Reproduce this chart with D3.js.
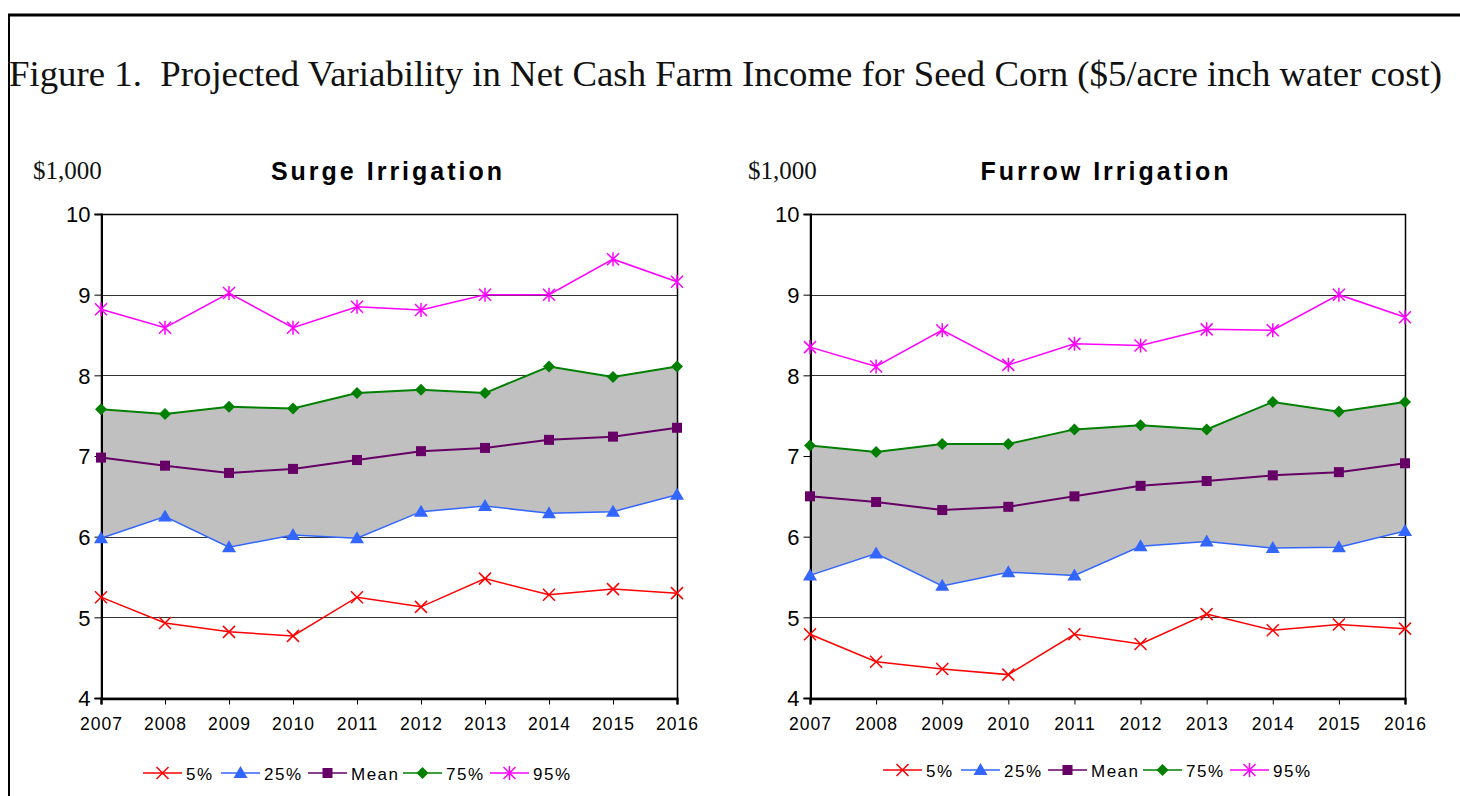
<!DOCTYPE html>
<html>
<head>
<meta charset="utf-8">
<script src="https://cdn.jsdelivr.net/npm/d3@7"></script>
<style>
body { margin: 0; background: #fff; }
svg { display: block; }
</style>
</head>
<body>
<svg id="fig" width="1460" height="796"></svg>
<script>
// years on the x axis
var years = [2007, 2008, 2009, 2010, 2011, 2012, 2013, 2014, 2015, 2016];
var yTicks = [4, 5, 6, 7, 8, 9, 10];
var seriesNames = ["5%", "25%", "Mean", "75%", "95%"];

// Surge irrigation ($1,000)
var surgeP5 = [5.25, 4.93, 4.82, 4.77, 5.25, 5.13, 5.48, 5.28, 5.35, 5.30];
var surgeP25 = [5.98, 6.25, 5.87, 6.02, 5.98, 6.31, 6.38, 6.29, 6.31, 6.52];
var surgeMean = [6.98, 6.88, 6.79, 6.84, 6.95, 7.06, 7.10, 7.20, 7.24, 7.35];
var surgeP75 = [7.58, 7.52, 7.61, 7.59, 7.78, 7.82, 7.78, 8.11, 7.98, 8.11];
var surgeP95 = [8.82, 8.59, 9.02, 8.59, 8.85, 8.81, 9.00, 9.00, 9.44, 9.16];

// Furrow irrigation ($1,000)
var furrowP5 = [4.79, 4.45, 4.36, 4.29, 4.79, 4.67, 5.04, 4.84, 4.91, 4.86];
var furrowP25 = [5.52, 5.79, 5.39, 5.56, 5.52, 5.88, 5.94, 5.86, 5.87, 6.07];
var furrowMean = [6.50, 6.43, 6.33, 6.37, 6.50, 6.63, 6.69, 6.76, 6.80, 6.91];
var furrowP75 = [7.13, 7.05, 7.15, 7.15, 7.33, 7.38, 7.33, 7.67, 7.55, 7.67];
var furrowP95 = [8.35, 8.11, 8.56, 8.13, 8.39, 8.37, 8.57, 8.56, 9.00, 8.72];

var colors = ["#ff0000", "#3366ff", "#660066", "#008000", "#ff00ff"];
var markers = ["x", "triangle", "square", "diamond", "star"];

var svg = d3.select("#fig");

// page frame
svg.append("line")
	.attr("x1", 8).attr("x2", 1460)
	.attr("y1", 15).attr("y2", 15)
	.style("stroke", "#000")
	.style("stroke-width", 3);
svg.append("line")
	.attr("x1", 9).attr("x2", 9)
	.attr("y1", 14).attr("y2", 796)
	.style("stroke", "#000")
	.style("stroke-width", 2);

svg.append("text")
	.attr("x", 9)
	.attr("y", 86)
	.attr("xml:space", "preserve")
	.style("font-family", "'Liberation Serif', 'DejaVu Serif', serif")
	.style("font-size", "36.8px")
	.style("fill", "#111")
	.text("Figure 1.  Projected Variability in Net Cash Farm Income for Seed Corn ($5/acre inch water cost)");

function drawMarker(g, type, x, y, color) {
	if (type == "x") {
		g.append("path")
			.attr("d", "M" + (x - 6) + "," + (y - 6) + "L" + (x + 6) + "," + (y + 6) +
				"M" + (x - 6) + "," + (y + 6) + "L" + (x + 6) + "," + (y - 6))
			.style("stroke", color).style("stroke-width", 1.5).style("fill", "none");
	} else if (type == "star") {
		g.append("path")
			.attr("d", "M" + (x - 6) + "," + (y - 6) + "L" + (x + 6) + "," + (y + 6) +
				"M" + (x - 6) + "," + (y + 6) + "L" + (x + 6) + "," + (y - 6) +
				"M" + x + "," + (y - 7) + "L" + x + "," + (y + 7))
			.style("stroke", color).style("stroke-width", 1.5).style("fill", "none");
	} else if (type == "triangle") {
		g.append("path")
			.attr("d", "M" + x + "," + (y - 7) + "L" + (x + 7) + "," + (y + 5) + "L" + (x - 7) + "," + (y + 5) + "Z")
			.style("fill", color);
	} else if (type == "square") {
		g.append("rect")
			.attr("x", x - 5).attr("y", y - 5)
			.attr("width", 10).attr("height", 10)
			.style("fill", color);
	} else if (type == "diamond") {
		g.append("path")
			.attr("d", "M" + x + "," + (y - 6) + "L" + (x + 6) + "," + y + "L" + x + "," + (y + 6) + "L" + (x - 6) + "," + y + "Z")
			.style("fill", color);
	}
}

function drawChart(opts) {
	var g = svg.append("g");
	var x = d3.scalePoint().domain(years).range([opts.left, opts.right]);
	var y = d3.scaleLinear().domain([4, 10]).range([698, 214]);

	// gridlines
	g.selectAll(".grid")
		.data(yTicks.filter(function (d) { return d > 4 && d < 10; }))
		.enter().append("line")
		.attr("x1", opts.left).attr("x2", opts.right)
		.attr("y1", function (d) { return Math.round(y(d)) + 0.5; })
		.attr("y2", function (d) { return Math.round(y(d)) + 0.5; })
		.style("stroke", "#333")
		.style("stroke-width", 1);

	// shaded band between 25% and 75%
	var band = d3.area()
		.x(function (d, i) { return x(years[i]); })
		.y0(function (d, i) { return y(opts.series[1][i]); })
		.y1(function (d, i) { return y(opts.series[3][i]); });
	g.append("path")
		.datum(years)
		.attr("d", band)
		.style("fill", "#c0c0c0");

	// plot frame
	g.append("rect")
		.attr("x", opts.left + 0.5).attr("y", y(10) + 0.5)
		.attr("width", opts.right - opts.left).attr("height", y(4) - y(10))
		.style("fill", "none")
		.style("stroke", "#000")
		.style("stroke-width", 1.5);

	// axes
	var yAxis = d3.axisLeft(y).tickValues(yTicks).tickSize(7).tickPadding(4).tickFormat(d3.format("d"));
	var ya = g.append("g").attr("transform", "translate(" + (opts.left + 0.5) + ",0)").call(yAxis);
	ya.select(".domain").style("stroke-width", 2);
	ya.selectAll("text")
		.attr("dy", "0.36em")
		.style("font-family", "'Liberation Sans', Arial, sans-serif")
		.style("font-size", "22px")
		.style("fill", "#000");

	var xAxis = d3.axisBottom(x).tickSize(6).tickPadding(13);
	var xa = g.append("g").attr("transform", "translate(0," + (y(4) + 0.5) + ")").call(xAxis);
	xa.select(".domain").style("stroke-width", 2.5);
	xa.selectAll("text")
		.style("font-family", "'Liberation Sans', Arial, sans-serif")
		.style("font-size", "17.5px")
		.style("letter-spacing", "1px")
		.style("fill", "#000");

	// series lines and markers
	var line = d3.line()
		.x(function (d, i) { return x(years[i]); })
		.y(function (d) { return y(d); });
	opts.series.forEach(function (s, k) {
		g.append("path")
			.datum(s)
			.attr("d", line)
			.style("fill", "none")
			.style("stroke", colors[k])
			.style("stroke-width", k == 2 || k == 3 ? 2 : 1.5);
	});
	opts.series.forEach(function (s, k) {
		s.forEach(function (v, i) {
			drawMarker(g, markers[k], x(years[i]), y(v), colors[k]);
		});
	});

	// unit label and title
	g.append("text")
		.attr("x", opts.unitX).attr("y", 179)
		.style("font-family", "'Liberation Serif', 'DejaVu Serif', serif")
		.style("font-size", "25px")
		.style("fill", "#111")
		.text("$1,000");
	g.append("text")
		.attr("x", opts.titleX).attr("y", 180)
		.style("text-anchor", "middle")
		.style("font-family", "'Liberation Sans', Arial, sans-serif")
		.style("font-weight", "bold")
		.style("font-size", "25px")
		.style("letter-spacing", "3px")
		.style("fill", "#000")
		.text(opts.title);

	// legend
	var legendX = [0, 78, 165, 260, 347];
	seriesNames.forEach(function (name, k) {
		var lx = opts.legendLeft + legendX[k];
		g.append("line")
			.attr("x1", lx).attr("x2", lx + 39)
			.attr("y1", opts.legendY).attr("y2", opts.legendY)
			.style("stroke", colors[k])
			.style("stroke-width", 1.5);
		drawMarker(g, markers[k], lx + 19.5, opts.legendY, colors[k]);
		g.append("text")
			.attr("x", lx + 43).attr("y", opts.legendY + 7)
			.style("font-family", "'Liberation Sans', Arial, sans-serif")
			.style("font-size", "17px")
			.style("letter-spacing", "1.5px")
			.style("fill", "#000")
			.text(name);
	});
}

drawChart({
	left: 101, right: 677,
	series: [surgeP5, surgeP25, surgeMean, surgeP75, surgeP95],
	title: "Surge Irrigation", titleX: 388, unitX: 33,
	legendLeft: 143, legendY: 773
});

drawChart({
	left: 810, right: 1405,
	series: [furrowP5, furrowP25, furrowMean, furrowP75, furrowP95],
	title: "Furrow Irrigation", titleX: 1106, unitX: 748,
	legendLeft: 883, legendY: 770
});
</script>
</body>
</html>
